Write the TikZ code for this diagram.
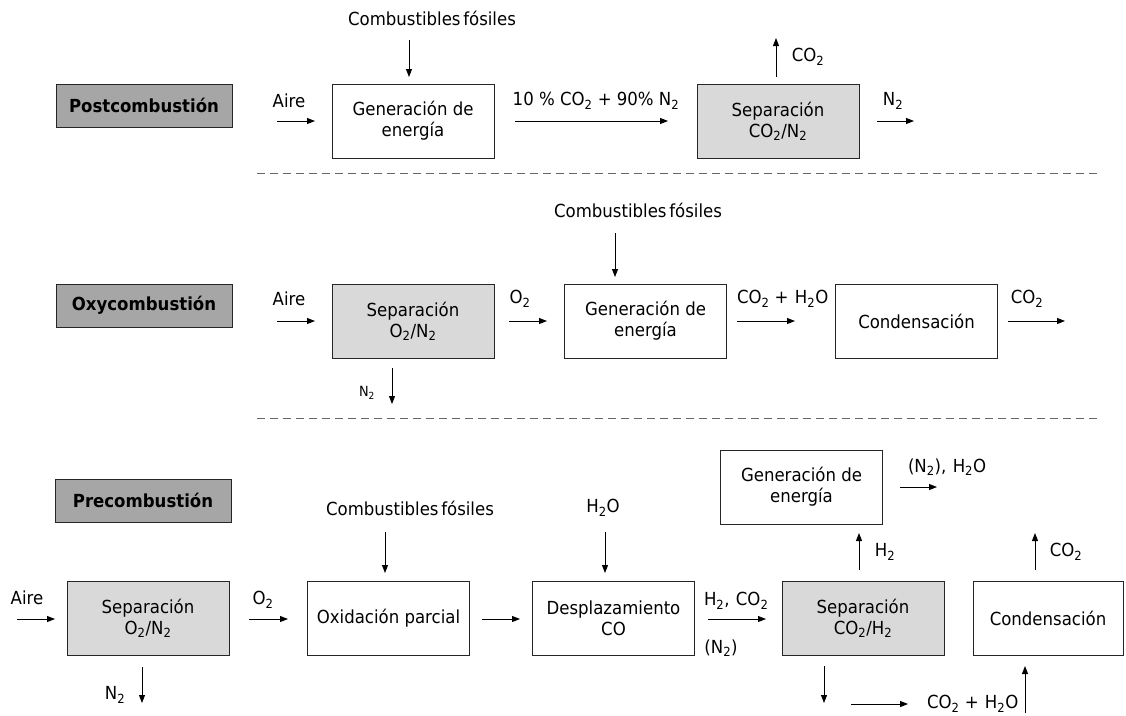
\documentclass[tikz,border=0pt]{standalone}
\usepackage{fontspec}
\setmainfont{DejaVu Sans}[FakeStretch=0.92]
\usetikzlibrary{arrows.meta}
\newcommand{\chemsub}[1]{\textsubscript{#1}}
\newcommand{\fuel}{Combustibles\hspace{0.15em}fósiles}
\begin{document}
\begin{tikzpicture}[x=1pt,y=-1pt,
  every node/.style={inner sep=0pt, outer sep=0pt, font=\fontsize{18}{21}\selectfont},
  box/.style={draw=black!85, line width=1pt, align=center, minimum width=162pt, minimum height=74pt},
  sepbox/.style={box, fill=black!15},
  tag/.style={draw=black!85, line width=1pt, fill=black!35, minimum width=176pt, minimum height=43pt,
              font=\fontsize{18}{21}\selectfont\bfseries},
  arr/.style={-{Triangle[length=8pt,width=6pt]}, line width=0.9pt},
  divider/.style={draw=black!60, line width=0.9pt, dash pattern=on 8pt off 5pt},
  small/.style={font=\fontsize{14}{16}\selectfont},
]
\useasboundingbox (0,0) rectangle (1126,715);

% ---------------- Postcombustion ----------------
\node[tag] (t1) at (144,105.5) {Postcombustión};
\node (fuel1) at (432,18) {\fuel};
\node[box] (gen1) at (413,121) {Generación de\\energía};
\node (air1) at (289,101) {Aire};
\node (mix1) at (596,101) {10 \% CO\chemsub{2} + 90\% N\chemsub{2}};
\node[sepbox] (sep1) at (778,121) {Separación\\CO\chemsub{2}/N\chemsub{2}};
\node (co2a) at (808,57) {CO\chemsub{2}};
\node (n2a) at (893,101) {N\chemsub{2}};

\coordinate (f1s) at (409,40);  \coordinate (f1e) at (409,77);
\coordinate (a1s) at (277,121); \coordinate (a1e) at (315,121);
\coordinate (m1s) at (515,121); \coordinate (m1e) at (668,121);
\coordinate (c1s) at (776,77);  \coordinate (c1e) at (776,38);
\coordinate (n1s) at (877,121); \coordinate (n1e) at (914,121);
\draw[arr] (f1s) -- (f1e);
\draw[arr] (a1s) -- (a1e);
\draw[arr] (m1s) -- (m1e);
\draw[arr] (c1s) -- (c1e);
\draw[arr] (n1s) -- (n1e);

\coordinate (d1s) at (257,173); \coordinate (d1e) at (1098,173);
\draw[divider] (d1s) -- (d1e);

% ---------------- Oxycombustion ----------------
\node[tag] (t2) at (144,305.5) {Oxycombustión};
\node (fuel2) at (638,210) {\fuel};
\node (air2) at (289,299) {Aire};
\node[sepbox] (sep2) at (413,321) {Separación\\O\chemsub{2}/N\chemsub{2}};
\node[small] (n2b) at (367,393) {N\chemsub{2}};
\node (o2b) at (520,299) {O\chemsub{2}};
\node[box] (gen2) at (645.5,321) {Generación de\\energía};
\node[anchor=west] (mix2) at (737,299) {CO\chemsub{2} +\hspace{0.35em}H\chemsub{2}O};
\node[box] (cond2) at (916.5,321) {Condensación};
\node (co2b) at (1027,299) {CO\chemsub{2}};

\coordinate (f2s) at (615,233);  \coordinate (f2e) at (615,277);
\coordinate (a2s) at (277,321);  \coordinate (a2e) at (315,321);
\coordinate (n2s) at (392,368);  \coordinate (n2e) at (392,404);
\coordinate (o2s) at (509,321);  \coordinate (o2e) at (547,321);
\coordinate (m2s) at (737,321);  \coordinate (m2e) at (795,321);
\coordinate (c2s) at (1008,321); \coordinate (c2e) at (1065,321);
\draw[arr] (f2s) -- (f2e);
\draw[arr] (a2s) -- (a2e);
\draw[arr] (n2s) -- (n2e);
\draw[arr] (o2s) -- (o2e);
\draw[arr] (m2s) -- (m2e);
\draw[arr] (c2s) -- (c2e);

\coordinate (d2s) at (257,418); \coordinate (d2e) at (1098,418);
\draw[divider] (d2s) -- (d2e);

% ---------------- Precombustion ----------------
\node[tag] (t3) at (143,500.5) {Precombustión};
\node (fuel3) at (410,508) {\fuel};
\node (h2o3) at (603,508) {H\chemsub{2}O};
\node (air3) at (27,598) {Aire};
\node[sepbox] (sep3) at (148,618) {Separación\\O\chemsub{2}/N\chemsub{2}};
\node (n2c) at (115,695) {N\chemsub{2}};
\node (o2c) at (263,600) {O\chemsub{2}};
\node[box] (oxi) at (388.5,618) {Oxidación parcial};
\node[box] (desp) at (613.5,618) {Desplazamiento\\CO};
\node[anchor=west] (h2co2) at (704,601) {H\chemsub{2},\hspace{0.35em}CO\chemsub{2}};
\node (n2d) at (721,648) {(N\chemsub{2})};
\node[sepbox] (sep4) at (863,618) {Separación\\CO\chemsub{2}/H\chemsub{2}};
\node[box, minimum width=150pt] (cond3) at (1048,618) {Condensación};
\node[box] (gen3) at (801.5,487) {Generación de\\energía};
\node[anchor=west] (exh) at (908,467) {(N\chemsub{2}),\hspace{0.35em}H\chemsub{2}O};
\node (h2) at (885,552) {H\chemsub{2}};
\node (co2c) at (1066,552) {CO\chemsub{2}};
\node[anchor=west] (mix3) at (927,704) {CO\chemsub{2} +\hspace{0.35em}H\chemsub{2}O};

\coordinate (f3s) at (385,532);  \coordinate (f3e) at (385,573);
\coordinate (w3s) at (605,532);  \coordinate (w3e) at (605,573);
\coordinate (a3s) at (17,619);   \coordinate (a3e) at (55,619);
\coordinate (n3s) at (142,667);  \coordinate (n3e) at (142,703);
\coordinate (o3s) at (249,619);  \coordinate (o3e) at (288,619);
\coordinate (x3s) at (482,619);  \coordinate (x3e) at (520,619);
\coordinate (s3s) at (708,619);  \coordinate (s3e) at (766,619);
\coordinate (e3s) at (900,487);  \coordinate (e3e) at (937,487);
\coordinate (h3s) at (859,570);  \coordinate (h3e) at (859,533);
\coordinate (c3s) at (1035,570); \coordinate (c3e) at (1035,533);
\coordinate (b3s) at (824,666);  \coordinate (b3e) at (824,703);
\coordinate (r3s) at (851,704);  \coordinate (r3e) at (908,704);
\coordinate (u3s) at (1025,713); \coordinate (u3e) at (1025,666);
\draw[arr] (f3s) -- (f3e);
\draw[arr] (w3s) -- (w3e);
\draw[arr] (a3s) -- (a3e);
\draw[arr] (n3s) -- (n3e);
\draw[arr] (o3s) -- (o3e);
\draw[arr] (x3s) -- (x3e);
\draw[arr] (s3s) -- (s3e);
\draw[arr] (e3s) -- (e3e);
\draw[arr] (h3s) -- (h3e);
\draw[arr] (c3s) -- (c3e);
\draw[arr] (b3s) -- (b3e);
\draw[arr] (r3s) -- (r3e);
\draw[arr] (u3s) -- (u3e);
\end{tikzpicture}
\end{document}
